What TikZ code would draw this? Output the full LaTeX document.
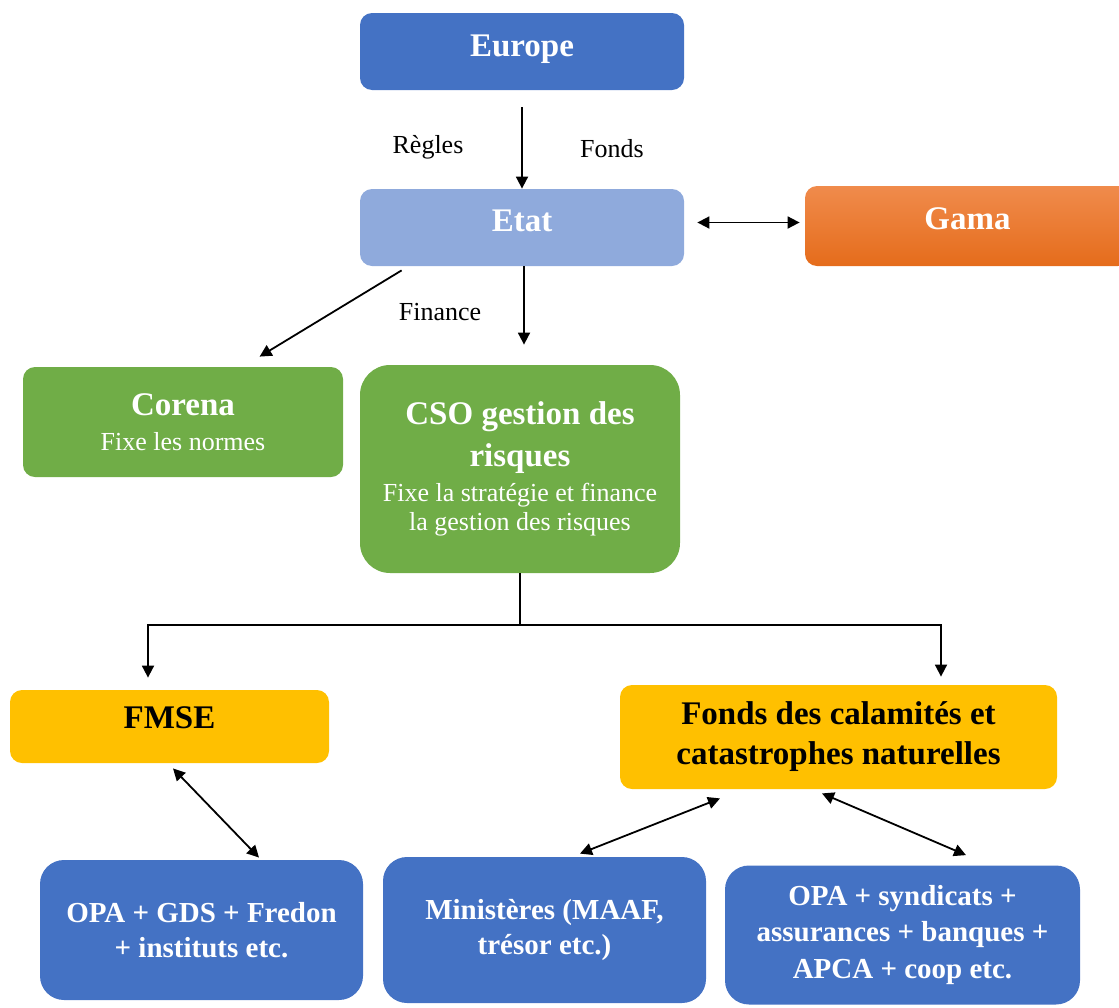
\documentclass[tikz,border=0pt]{standalone}
\usepackage{fontspec}
\setmainfont{Liberation Serif}
\usetikzlibrary{arrows.meta}
\definecolor{bleu}{HTML}{4472C4}
\definecolor{bleuclair}{HTML}{8FAADC}
\definecolor{vert}{HTML}{70AD47}
\definecolor{jaune}{HTML}{FFC000}
\definecolor{orangehaut}{HTML}{F08B4C}
\definecolor{orangebas}{HTML}{E56C1B}
\newcommand{\soustitre}{\fontsize{13}{21}\selectfont\mdseries}
\begin{document}
\begin{tikzpicture}[x=0.5pt,y=-0.5pt,
    bloc/.style={rounded corners=6pt,inner sep=0pt,align=flush center,text=white,
      font={\lineskiplimit=-100pt\fontsize{16.5}{21}\selectfont\bfseries}},
    blocbas/.style={bloc,fill=bleu,rounded corners=12pt,
      font={\lineskiplimit=-100pt\fontsize{14.5}{17.5}\selectfont\bfseries}},
    etiquette/.style={inner sep=0pt,font=\fontsize{13}{15}\selectfont},
    fleche/.style={line width=0.9pt,-{Triangle[length=6pt,width=6pt]}},
    dfleche/.style={line width=0.9pt,{Triangle[length=6pt,width=6pt]}-{Triangle[length=6pt,width=6pt]}}]
    \useasboundingbox (0,0) rectangle (1119,1007);
    \clip (0,0) rectangle (1119,1007);
    % Верхний уровень
    \node[bloc,fill=bleu,text width=162pt,minimum height=38.5pt,text depth=5.5pt] (europe) at (522,51.5) {Europe};
    \node[bloc,fill=bleuclair,text width=162pt,minimum height=38.5pt,text depth=7pt] (etat) at (522,227.5) {Etat};
    \node[bloc,top color=orangehaut,bottom color=orangebas,text width=162.5pt,minimum height=40pt,text depth=7pt] (gama) at (967.5,226) {Gama};
    \node[etiquette] (regles) at (428,147) {Règles};
    \node[etiquette] (fondsetq) at (612,149) {Fonds};
    \node[etiquette] (finance) at (440,312) {Finance};
    \draw[fleche,shorten <=8.5pt] (europe) -- (etat);
    \draw[dfleche,shorten <=6.5pt,shorten >=2.5pt] ([yshift=2.5pt]etat.east) -- ([yshift=2.5pt]etat.east -| gama.west);
    % Второй уровень
    \node[bloc,fill=vert,text width=160pt,minimum height=55pt] (corena) at (183,422)
      {Corena\\[-3.5pt]\soustitre Fixe les normes};
    \node[bloc,fill=vert,rounded corners=15pt,text width=160pt,minimum height=104pt] (cso) at (520,469)
      {CSO gestion des\\risques\\[-3.5pt]\soustitre Fixe la stratégie et finance\\[-6.5pt]la gestion des risques};
    \draw[fleche] ([xshift=21pt,yshift=-2pt]etat.south west) -- ([xshift=118.5pt,yshift=5pt]corena.north west);
    \draw[fleche,shorten >=10pt] ([xshift=1pt]etat.south) -- ([xshift=1pt]etat.south |- cso.north);
    % Фонды
    \node[bloc,fill=jaune,text=black,text width=159.5pt,minimum height=36.5pt,text depth=9pt] (fmse) at (169.5,726.5) {FMSE};
    \node[bloc,fill=jaune,text=black,text width=218.5pt,minimum height=52pt,
      font={\lineskiplimit=-100pt\fontsize{16.5}{20}\selectfont\bfseries}] (fonds) at (838.5,737)
      {Fonds des calamités et\\catastrophes naturelles};
    \coordinate (noeud) at (520,625);
    \draw[line width=0.9pt] (cso.south) -- (noeud);
    \draw[fleche,shorten >=6pt] (noeud) -| ([xshift=-10.75pt]fmse.north);
    \draw[fleche,shorten >=4pt] (noeud) -| ([xshift=51.25pt]fonds.north);
    % Нижний уровень
    \node[blocbas,text width=161.5pt,minimum height=70pt] (opagds) at (201.5,930)
      {OPA + GDS + Fredon\\+ instituts etc.};
    \node[blocbas,text width=161.5pt,minimum height=73pt] (ministeres) at (544.5,930)
      {Ministères (MAAF,\\trésor etc.)};
    \node[blocbas,text width=177.5pt,minimum height=69.5pt] (opasynd) at (902.5,935)
      {OPA + syndicats +\\[0.75pt]assurances + banques +\\[0.75pt]APCA + coop etc.};
    \draw[dfleche] ([xshift=1.75pt,yshift=-2.5pt]fmse.south) -- ([xshift=28.75pt,yshift=1pt]opagds.north);
    \draw[dfleche] ([xshift=-59.25pt,yshift=-4.5pt]fonds.south) -- ([xshift=17.75pt,yshift=1.5pt]ministeres.north);
    \draw[dfleche] ([xshift=-8.25pt,yshift=-2pt]fonds.south) -- ([xshift=31.75pt,yshift=5pt]opasynd.north);
\end{tikzpicture}
\end{document}
